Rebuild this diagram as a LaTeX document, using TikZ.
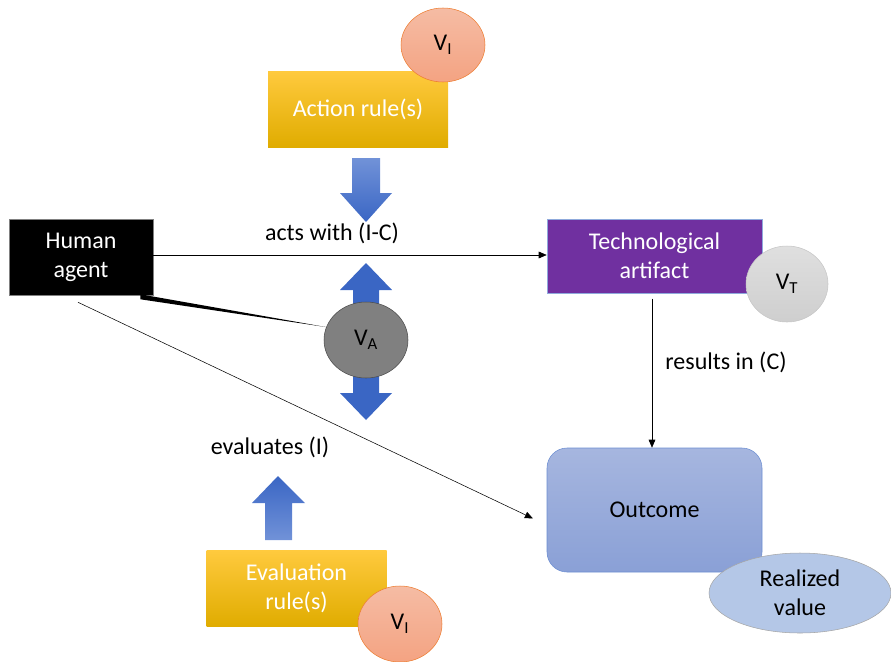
\documentclass[tikz,border=0pt]{standalone}
\usepackage{fontspec}
\setmainfont{Carlito}
\usetikzlibrary{shapes.geometric,arrows.meta,calc}

\definecolor{goldtop}{HTML}{FFCA3E}
\definecolor{goldmid}{HTML}{FFC000}
\definecolor{goldbot}{HTML}{E0AC00}
\definecolor{purplebox}{HTML}{7030A0}
\definecolor{paleblue}{HTML}{8FAADC}
\definecolor{outtop}{HTML}{A6B6DF}
\definecolor{outbot}{HTML}{8AA0D6}
\definecolor{outline}{HTML}{6C8ED2}
\definecolor{peachtop}{HTML}{F5BCA4}
\definecolor{peachbot}{HTML}{F4A382}
\definecolor{peachline}{HTML}{ED7D31}
\definecolor{arrowdark}{HTML}{3A66C4}
\definecolor{arrowlight}{HTML}{7192D8}
\definecolor{realized}{HTML}{B4C7E7}

\tikzset{
  rulebox/.style={rectangle, minimum width=135pt, minimum height=57pt, inner sep=0pt,
    top color=goldtop, middle color=goldmid, bottom color=goldbot, text=white, align=center},
  valuedot/.style={ellipse, minimum width=63pt, minimum height=57pt, inner sep=0pt},
  conn/.style={-{Triangle[length=6pt,width=5pt]}, black}
}

\begin{document}
\begin{tikzpicture}[x=0.75pt, y=-0.75pt, font=\fontsize{18pt}{21.6pt}\selectfont]
\useasboundingbox (0,0) rectangle (891,661);

% boxes
\node[rulebox] (action) at (358,109) {Action rule(s)};
\node[rulebox] (evalrule) at (296.5,588) {Evaluation\\rule(s)};
\node[rectangle, fill=black, draw=gray, text=white, align=center, inner sep=0pt,
  minimum width=108pt, minimum height=57pt] (human) at (81,257) {Human\\agent};
\node[rectangle, fill=purplebox, draw=paleblue, text=white, align=center, inner sep=0pt,
  minimum width=161.25pt, minimum height=55.5pt] (tech) at (654.5,256) {Technological\\artifact};
\node[rectangle, rounded corners=15pt, top color=outtop, bottom color=outbot, draw=outline,
  inner sep=0pt, minimum width=161.25pt, minimum height=93pt] (outcome) at (654.5,510) {Outcome};

% block arrows
\shade[top color=arrowlight, bottom color=arrowdark]
  (352,158) -- (380,158) -- (380,193) -- (392,193) -- (366,222) -- (340,193) -- (352,193) -- cycle;
\shade[top color=arrowdark, middle color=arrowlight, bottom color=arrowdark]
  (366,263) -- (392,290) -- (379,290) -- (379,393) -- (392,393) -- (366,420)
  -- (340,393) -- (353,393) -- (353,290) -- (340,290) -- cycle;
\shade[top color=arrowdark, bottom color=arrowlight]
  (278,476) -- (305,503) -- (292,503) -- (292,540) -- (265,540) -- (265,503) -- (252,503) -- cycle;

% values
\node[valuedot, top color=peachtop, bottom color=peachbot, draw=peachline,
  minimum height=55.5pt] (vi1) at (443,45) {V\textsubscript{I}};
\node[valuedot, top color=peachtop, bottom color=peachbot, draw=peachline] (vi2) at (400,624) {V\textsubscript{I}};
\node[valuedot, top color=gray!25, bottom color=gray!38, draw=gray!45, minimum width=61.5pt] (vt) at (787,284) {V\textsubscript{T}};
\node[valuedot, fill=gray, draw=black!70] (va) at (366,340) {V\textsubscript{A}};
\node[ellipse, fill=realized, draw=gray!70, align=center, inner sep=0pt,
  minimum width=136.5pt, minimum height=60pt] (real) at (800,593) {Realized\\value};

% labels
\node (actslbl) at (332,233) {acts with (I-C)};
\node (resultslbl) at (726,362) {results in (C)};
\node (evallbl) at (270,447) {evaluates (I)};

% connectors
\draw[conn] (human.east |- 0,255) -- (tech.west |- 0,255);
\draw[conn, shorten <=4pt] (tech.south -| 652,0) -- (outcome.north -| 652,0);
\draw[conn, shorten >=11.5pt] ($(human.south)+(-3,7)$) -- ($(outcome.west)+(0,15)$);
\fill ($(human.south east)+(-13,-1)$) -- (va.162) -- ($(human.south east)+(-13,4)$) -- cycle;
\end{tikzpicture}
\end{document}
